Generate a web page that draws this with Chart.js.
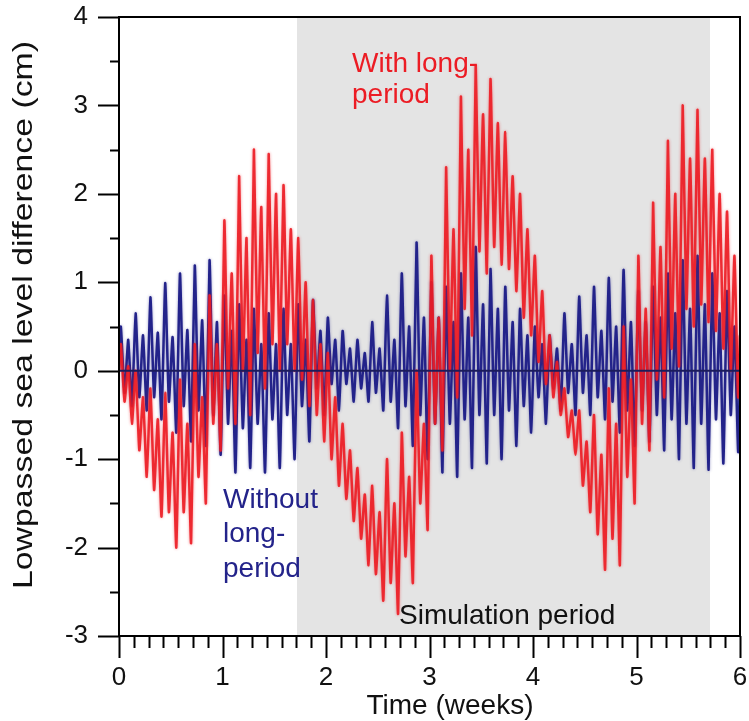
<!DOCTYPE html>
<html>
<head>
<meta charset="utf-8">
<script src="https://cdn.jsdelivr.net/npm/chart.js@4.4.1/dist/chart.umd.min.js"></script>
<style>
  html, body { margin: 0; padding: 0; background: #fff; }
  #wrap { width: 749px; height: 721px; position: relative; }
</style>
</head>
<body>
<div id="wrap"><canvas id="chart"></canvas></div>
<script>
// Tidal extremes (cm). One entry per half day:
// highs alternate higher/lower high, lows alternate shallow/deep low.
const redHighs = [
  0.30, 0.05,  0.0, -0.3,  -0.2, -0.55,  -0.25, -0.7,  -0.1, -0.6,  0.3, -0.3,  0.85, 0.3,
  1.7, 1.1,  2.2, 1.5,  2.5, 1.85,  2.45, 2.0,  2.1, 1.6,  1.5, 1.0,  0.8, 0.3,
  0.2, -0.3,  -0.6, -0.9,  -1.1, -1.4,  -1.3, -1.6,  -1.0, -1.5,  -0.7, -1.2,  0.0, -0.6,
  1.3, 0.6,  2.3, 1.6,  3.1, 2.5,  3.45, 2.9,  3.3, 2.8,  2.7, 2.2,  2.0, 1.6,
  1.3, 0.9,  0.4, 0.1,  -0.2, -0.45,  -0.45, -0.8,  -0.5, -0.95,  -0.2, -0.6,  0.5, -0.1,
  1.3, 0.7,  1.9, 1.4,  2.6, 2.0,  3.0, 2.4,  2.95, 2.4,  2.5, 2.0,  1.8, 1.3
];
const redLows = [
  -0.35, -0.6,  -0.9, -1.2,  -1.35, -1.65,  -1.6, -2.0,  -1.6, -1.95,  -1.2, -1.5,  -0.6, -0.9,
  -0.2, -0.6,  0.0, -0.5,  0.2, -0.2,  0.3, 0.0,  0.3, 0.0,  -0.1, -0.4,  -0.5, -0.8,
  -1.0, -1.3,  -1.45, -1.7,  -1.9, -2.2,  -2.3, -2.6,  -2.4, -2.75,  -2.1, -2.4,  -1.5, -1.8,
  -0.6, -0.9,  0.0, -0.3,  0.7, 0.4,  1.35, 1.1,  1.4, 1.2,  1.15, 0.9,  0.6, 0.4,
  0.1, -0.15,  -0.3, -0.5,  -0.75, -0.95,  -1.3, -1.6,  -1.85, -2.25,  -1.9, -2.2,  -1.2, -1.5,
  -0.6, -0.9,  -0.1, -0.3,  0.25, 0.05,  0.7, 0.5,  0.75, 0.55,  0.45, 0.25,  0.0, -0.3
];
const blueHighs = [
  0.5, 0.35,  0.65, 0.40,  0.83, 0.43,  0.99, 0.38,  1.10, 0.46,  1.19, 0.57,  1.25, 0.55,
  0.85, 0.45,  0.75, 0.35,  0.7, 0.3,  0.65, 0.3,  0.7, 0.3,  0.75, 0.35,  0.8, 0.45,
  0.6, 0.35,  0.45, 0.25,  0.35, 0.2,  0.55, 0.25,  0.85, 0.35,  1.1, 0.5,  1.45, 0.6,
  1.0, 0.6,  0.95, 0.55,  1.1, 0.6,  1.4, 0.75,  1.15, 0.7,  0.95, 0.55,  0.7, 0.4,
  0.5, 0.3,  0.4, 0.25,  0.65, 0.3,  0.84, 0.4,  0.95, 0.45,  1.05, 0.5,  1.14, 0.55,
  0.9, 0.55,  0.95, 0.6,  1.1, 0.65,  1.25, 0.7,  1.3, 0.75,  1.1, 0.65,  0.9, 0.5
];
const blueLows = [
  -0.25, -0.4,  -0.3, -0.45,  -0.3, -0.55,  -0.35, -0.7,  -0.4, -0.8,  -0.45, -0.85,  -0.5, -0.95,
  -0.6, -1.15,  -0.65, -1.1,  -0.6, -1.15,  -0.55, -1.1,  -0.5, -1.0,  -0.4, -0.8,  -0.2, -0.5,
  -0.15, -0.45,  -0.15, -0.35,  -0.2, -0.35,  -0.25, -0.45,  -0.35, -0.65,  -0.4, -0.85,  -0.5, -1.0,
  -0.6, -1.15,  -0.6, -1.2,  -0.55, -1.1,  -0.5, -1.05,  -0.5, -1.0,  -0.45, -0.85,  -0.4, -0.7,
  -0.3, -0.6,  -0.2, -0.45,  -0.25, -0.5,  -0.25, -0.5,  -0.3, -0.55,  -0.35, -0.7,  -0.45, -0.85,
  -0.45, -0.8,  -0.5, -0.9,  -0.55, -1.0,  -0.6, -1.1,  -0.6, -1.12,  -0.55, -1.05,  -0.5, -0.92
];
const redEnd = 0.4;
const blueEnd = 0.0;
const halfDaysPerWeek = 14;

// axes and annotation
const xTicks = [0, 1, 2, 3, 4, 5, 6];
const yTicks = [-3, -2, -1, 0, 1, 2, 3, 4];
const simPeriod = [1.72, 5.71];   // weeks, grey band

const FONT = '"Liberation Sans", Arial, sans-serif';
const RED = '#ec1c24';
const NAVY = '#23238a';

// series: start at 0, then high/low per half day
function toPoints(highs, lows, endVal) {
  const pts = [{ x: 0, y: 0 }];
  for (let k = 0; k < highs.length; k++) {
    pts.push({ x: (k + 0.25) / halfDaysPerWeek, y: highs[k] });
    pts.push({ x: (k + 0.75) / halfDaysPerWeek, y: lows[k] });
  }
  pts.push({ x: xTicks[xTicks.length - 1], y: endVal });
  return pts;
}

// soft halo round the dense traces, like the scanned figure
const halo = {
  id: 'halo',
  beforeDatasetDraw(chart, args) {
    const ctx = chart.ctx;
    ctx.save();
    ctx.shadowColor = args.index === 0 ? 'rgba(236,28,36,0.55)' : 'rgba(35,35,138,0.45)';
    ctx.shadowBlur = 3;
  },
  afterDatasetDraw(chart) {
    chart.ctx.restore();
  }
};

// grey band, zero line, frame, ticks and the text labels
const decor = {
  id: 'decor',
  beforeDatasetsDraw(chart) {
    const { ctx, chartArea: a, scales: { x } } = chart;
    ctx.save();
    ctx.fillStyle = '#e4e4e4';
    const x0 = x.getPixelForValue(simPeriod[0]);
    const x1 = x.getPixelForValue(simPeriod[1]);
    ctx.fillRect(x0, a.top, x1 - x0, a.height);
    ctx.restore();
  },
  afterDatasetsDraw(chart) {
    const { ctx, chartArea: a, scales: { x, y } } = chart;
    ctx.save();
    // zero line
    ctx.strokeStyle = '#1c1c5c';
    ctx.lineWidth = 2;
    const y0 = y.getPixelForValue(0);
    ctx.beginPath(); ctx.moveTo(a.left, y0); ctx.lineTo(a.right, y0); ctx.stroke();

    // frame
    ctx.strokeStyle = '#000';
    ctx.lineWidth = 2;
    ctx.strokeRect(a.left, a.top, a.width, a.height);

    // x ticks: major each week, minor each day
    ctx.beginPath();
    const days = (xTicks[xTicks.length - 1] - xTicks[0]) * 7;
    for (let d = 0; d <= days; d++) {
      const px = Math.round(x.getPixelForValue(d / 7)) + 0.5;
      const len = d % 7 === 0 ? 22 : 12;
      ctx.moveTo(px, a.bottom); ctx.lineTo(px, a.bottom + len);
    }
    // y ticks: major each cm, minor each half cm
    for (let v = yTicks[0]; v <= yTicks[yTicks.length - 1]; v += 0.5) {
      const py = Math.round(y.getPixelForValue(v)) + 0.5;
      const len = Number.isInteger(v) ? 21 : 9;
      ctx.moveTo(a.left - len, py); ctx.lineTo(a.left, py);
    }
    ctx.stroke();

    // annotations
    ctx.font = '28px ' + FONT;
    ctx.textAlign = 'left';
    ctx.textBaseline = 'alphabetic';
    ctx.fillStyle = RED;
    ctx.fillText('With long-', 352, 72);
    ctx.fillText('period', 352, 103);
    ctx.fillStyle = NAVY;
    ctx.fillText('Without', 223, 508);
    ctx.fillText('long-', 223, 542);
    ctx.fillText('period', 223, 577);
    ctx.fillStyle = '#111';
    ctx.fillText('Simulation period', 399, 624);

    // axis titles
    ctx.font = '28px ' + FONT;
    ctx.textAlign = 'center';
    ctx.fillText('Time (weeks)', 450, 714);
    const yt = 'Lowpassed sea level difference (cm)';
    ctx.translate(32, 315);
    ctx.rotate(-Math.PI / 2);
    const w = ctx.measureText(yt).width;
    ctx.scale(548 / w, 1);
    ctx.fillText(yt, 0, 0);
    ctx.restore();
  }
};

Chart.defaults.font.family = FONT;
Chart.defaults.color = '#111';

new Chart(document.getElementById('chart'), {
  type: 'line',
  data: {
    datasets: [
      {
        label: 'With long-period',
        data: toPoints(redHighs, redLows, redEnd),
        borderColor: 'rgba(236,28,36,0.9)',
        borderWidth: 2.5,
        pointRadius: 0,
        tension: 0.15
      },
      {
        label: 'Without long-period',
        data: toPoints(blueHighs, blueLows, blueEnd),
        borderColor: NAVY,
        borderWidth: 2.5,
        pointRadius: 0,
        tension: 0.15
      }
    ]
  },
  options: {
    responsive: true,
    maintainAspectRatio: false,
    animation: false,
    layout: { padding: { top: 17, right: 9, left: 0, bottom: 0 } },
    plugins: { legend: { display: false }, tooltip: { enabled: false } },
    scales: {
      x: {
        type: 'linear',
        min: xTicks[0],
        max: xTicks[xTicks.length - 1],
        afterFit: s => { s.height = 85; s.paddingLeft = 0; s.paddingRight = 0; },
        afterBuildTicks: s => { s.ticks = xTicks.map(v => ({ value: v })); },
        grid: { display: false, drawTicks: false },
        border: { display: false },
        ticks: { padding: 26, font: { size: 26 }, color: '#111', maxRotation: 0 }
      },
      y: {
        type: 'linear',
        min: yTicks[0],
        max: yTicks[yTicks.length - 1],
        afterFit: s => { s.width = 119; s.paddingTop = 0; s.paddingBottom = 0; },
        afterBuildTicks: s => { s.ticks = yTicks.map(v => ({ value: v })); },
        grid: { display: false, drawTicks: false },
        border: { display: false },
        ticks: { padding: 31, font: { size: 26 }, color: '#111' }
      }
    }
  },
  plugins: [halo, decor]
});
</script>
</body>
</html>
